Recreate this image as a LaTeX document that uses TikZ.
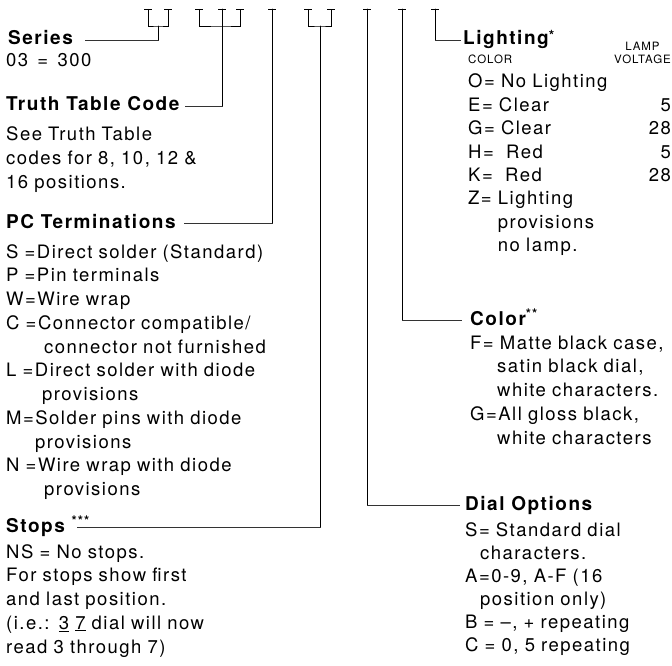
\documentclass[tikz,border=0pt]{standalone}
\usepackage{fontspec}
\setmainfont{TeX Gyre Heros}[LetterSpace=8]
\begin{document}
\begin{tikzpicture}[x=1pt,y=-1pt,
  body/.style={anchor=base west, inner sep=0pt, text width=260pt, align=left, font=\fontsize{18.5}{23.75}\selectfont},
  head/.style={anchor=base west, inner sep=0pt, font=\bfseries\fontsize{19}{24}\selectfont, text height=13pt, text depth=4pt},
  small/.style={inner sep=0pt, font=\fontsize{11.5}{14}\selectfont},
  stem/.style={line width=0.9pt, line cap=round},
  brk/.style={line width=0.7pt},
  lead/.style={line width=0.55pt, black!80},
]
\useasboundingbox (0,0) rectangle (672,666);

% ---- text blocks, left column
\node[head] (series) at (8,45) {Series};
\node[body] (seriesbody) at (6,67) {03 \,=\, 300};
\node[head] (ttc) at (6,111) {Truth Table Code};
\node[body] (ttcbody) at (6,141) {See Truth Table\\codes for 8, 10, 12 \&\\16 positions.};
\node[head] (pc) at (6,228) {PC Terminations};
\node[body] (pcbody) at (6,258) {S =Direct solder (Standard)\\
P =Pin terminals\\
W=Wire wrap\\
C =Connector compatible/\\
\hspace*{38pt}connector not furnished\\
L =Direct solder with diode\\
\hspace*{36pt}provisions\\
M=Solder pins with diode\\
\hspace*{29pt}provisions\\
N =Wire wrap with diode\\
\hspace*{38pt}provisions};
\node[head] (stops) at (6,532) {Stops \textsuperscript{***}};
\node[body] (stopsbody) at (6,558) {NS = No stops.\\
For stops show first\\
and last position.\\
(i.e.: \underline{3} \underline{7} dial will now\\
read 3 through 7)};

% ---- right column
\node[head] (light) at (463,45) {Lighting\raisebox{4pt}{\fontsize{14}{14}\selectfont *}};
\node[small, anchor=base east] (volt) at (671,64) {VOLTAGE};
\node[small, anchor=base] (lamp) at ([yshift=13pt]volt.base) {LAMP};
\node[small, anchor=base west] (colhdr) at (468,64) {COLOR};
\node[body, font=\fontsize{18.5}{23.4}\selectfont] (lightbody) at (468,88) {O= No Lighting\\
E= Clear\\
G= Clear\\
H= \ Red\\
K= \ Red\\
Z= Lighting\\
\phantom{Z= }provisions\\
\phantom{Z= }no lamp.};
\node[body, anchor=base east, text width=40pt, align=right, font=\fontsize{18.5}{23.4}\selectfont] (volts) at (671,111.4) {5\\28\\5\\28};

\node[head] (color) at (470,325) {Color\textsuperscript{**}};
\node[body] (colorbody) at (470,349) {F= Matte black case,\\
\hspace*{27pt}satin black dial,\\
\hspace*{27pt}white characters.\\
G=All gloss black,\\
\hspace*{27pt}white characters};

\node[head] (dial) at (465,510) {Dial Options};
\node[body, font=\fontsize{18.5}{23}\selectfont] (dialbody) at (465,536) {S= Standard dial\\
\hspace*{15pt}characters.\\
A=0-9, A-F (16\\
\hspace*{15pt}position only)\\
B = --, + repeating\\
C = 0, 5 repeating};

% ---- tick tops
\coordinate (t1) at (148,9);
\coordinate (t2) at (168,9);
\coordinate (j1) at (158,26);
\coordinate (t3) at (199,9);
\coordinate (t4) at (222,9);
\coordinate (t5) at (240,9);
\coordinate (j2) at (222,26);
\coordinate (t6) at (272,9);
\coordinate (t7) at (308,9);
\coordinate (t8) at (331,9);
\coordinate (j3) at (320,26);
\coordinate (t9) at (367,9);
\coordinate (t10) at (402,9);
\coordinate (t11) at (435,9);

\foreach \c in {t1,t2,t3,t4,t5,t6,t7,t8,t9,t10,t11}
  \draw[brk] ([xshift=-4pt]\c) -- ([xshift=4pt]\c);

% Series
\draw[brk] (t1) |- (j1) -| (t2);
\draw[stem] (j1) -- (j1 |- series.east);
\draw[lead] (j1 |- series.east) -- ([xshift=12pt]series.east);
% Truth table code
\draw[brk] (t3) |- (j2) -| (t5);
\draw[stem] (t4) -- (t4 |- ttc.east);
\draw[lead] (t4 |- ttc.east) -- ([xshift=5pt]ttc.east);
% PC terminations
\draw[stem] (t6) -- (t6 |- pc.east);
\draw[lead] (t6 |- pc.east) -- ([xshift=8pt]pc.east);
% Stops
\draw[brk] (t7) |- (j3) -| (t8);
\draw[stem] (j3) -- (j3 |- stops.east);
\draw[lead] (j3 |- stops.east) -- ([xshift=-13pt]stops.east);
% Dial options
\draw[stem] (t9) -- (t9 |- dial.west);
\draw[lead] (t9 |- dial.west) -- ([xshift=-5pt]dial.west);
% Color
\draw[stem] (t10) -- (t10 |- color.west);
\draw[lead] (t10 |- color.west) -- ([xshift=-8pt]color.west);
% Lighting
\draw[stem] (t11) -- (t11 |- light.west);
\draw[lead] (t11 |- light.west) -- ([xshift=-2pt]light.west);
\end{tikzpicture}
\end{document}
